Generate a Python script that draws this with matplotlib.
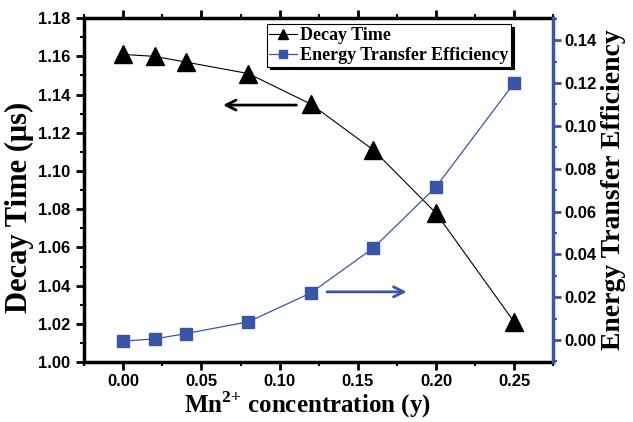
import matplotlib
matplotlib.use("Agg")
import matplotlib.pyplot as plt
from matplotlib.ticker import MultipleLocator

# Mn2+ concentration (y)
conc = [0.00, 0.02, 0.04, 0.08, 0.12, 0.16, 0.20, 0.25]
decay_time = [1.161, 1.160, 1.157, 1.151, 1.135, 1.111, 1.078, 1.021]
efficiency = [-0.0005, 0.0005, 0.003, 0.0085, 0.022, 0.043, 0.0715, 0.120]

blue = '#3a55a8'
serif = ['Liberation Serif', 'DejaVu Serif']
sans = ['Liberation Sans', 'DejaVu Sans']

plt.rcParams['mathtext.fontset'] = 'custom'
plt.rcParams['mathtext.bf'] = 'Liberation Serif:bold'
plt.rcParams['mathtext.rm'] = 'Liberation Serif:bold'

fig = plt.figure(figsize=(6.33, 4.22), dpi=100)
ax = fig.add_axes([0.133, 0.142, 0.741, 0.815])
ax2 = ax.twinx()

l1, = ax.plot(conc, decay_time, '-', color='black', lw=0.8,
              marker='^', ms=13, mfc='black', mec='black', label='Decay Time')
l2, = ax2.plot(conc, efficiency, '-', color=blue, lw=0.9,
               marker='s', ms=9, mfc=blue, mec=blue,
               label='Energy Transfer Efficiency')

ax.set_xlim(-0.025, 0.275)
ax.set_ylim(1.00, 1.18)
ax2.set_ylim(-0.0103, 0.1503)

ax.xaxis.set_major_locator(MultipleLocator(0.05))
ax.xaxis.set_minor_locator(MultipleLocator(0.025))
ax.yaxis.set_major_locator(MultipleLocator(0.02))
ax.yaxis.set_minor_locator(MultipleLocator(0.01))
ax2.yaxis.set_major_locator(MultipleLocator(0.02))
ax2.yaxis.set_minor_locator(MultipleLocator(0.01))
ax.xaxis.set_major_formatter(plt.FormatStrFormatter('%.2f'))
ax.yaxis.set_major_formatter(plt.FormatStrFormatter('%.2f'))
ax2.yaxis.set_major_formatter(plt.FormatStrFormatter('%.2f'))

for s in ['left', 'bottom', 'top']:
    ax.spines[s].set_linewidth(2.5)
ax.spines['right'].set_visible(False)
ax2.spines['right'].set_color(blue)
ax2.spines['right'].set_linewidth(2.5)
for s in ['left', 'bottom', 'top']:
    ax2.spines[s].set_visible(False)

ax.tick_params(axis='both', which='major', direction='out', length=6, width=2,
               labelsize=12, top=True, pad=4)
ax.tick_params(axis='x', which='major', pad=2.5)
ax.tick_params(axis='both', which='minor', direction='out', length=3, width=1.5,
               top=True)
ax2.tick_params(axis='y', which='major', direction='out', length=6, width=2,
                color=blue, labelsize=12, pad=2)
ax2.tick_params(axis='y', which='minor', direction='out', length=3, width=1.5,
                color=blue)
for lab in ax.get_xticklabels() + ax.get_yticklabels() + ax2.get_yticklabels():
    lab.set_fontfamily(sans)
    lab.set_fontweight('bold')

ax.set_xlabel('Mn$^{\\mathbf{2{+}}}$ concentration (y)', fontsize=18,
              fontweight='bold', family=serif)
ax.xaxis.set_label_coords(0.475, -0.079)
ax.set_ylabel('Decay Time (\u03bcs)', fontsize=22, fontweight='bold',
              family=serif)
ax.yaxis.set_label_coords(-0.106, 0.45)
ax2.set_ylabel('Energy Transfer Efficiency', fontsize=20, fontweight='bold',
               family=serif, labelpad=3)

# arrows pointing to the axes
ax.annotate('', xy=(0.062, 1.1345), xytext=(0.1125, 1.1345),
            arrowprops=dict(arrowstyle='->', color='black', lw=2,
                            mutation_scale=18))
ax2.annotate('', xy=(0.183, 0.0225), xytext=(0.1285, 0.0225),
             arrowprops=dict(arrowstyle='->', color=blue, lw=2,
                             mutation_scale=18))

leg = ax.legend([l1, l2], ['Decay Time', 'Energy Transfer Efficiency'],
                loc='upper left', bbox_to_anchor=(0.37, 1.008),
                prop={'family': serif, 'weight': 'bold', 'size': 13},
                fancybox=False, shadow={'color': 'black', 'alpha': 1},
                framealpha=1, edgecolor='black', handlelength=1.5,
                handletextpad=0.2, borderpad=0.15, labelspacing=0.15,
                markerscale=0.6)
leg.get_frame().set_linewidth(0.8)

fig.savefig('out.png', dpi=100)
